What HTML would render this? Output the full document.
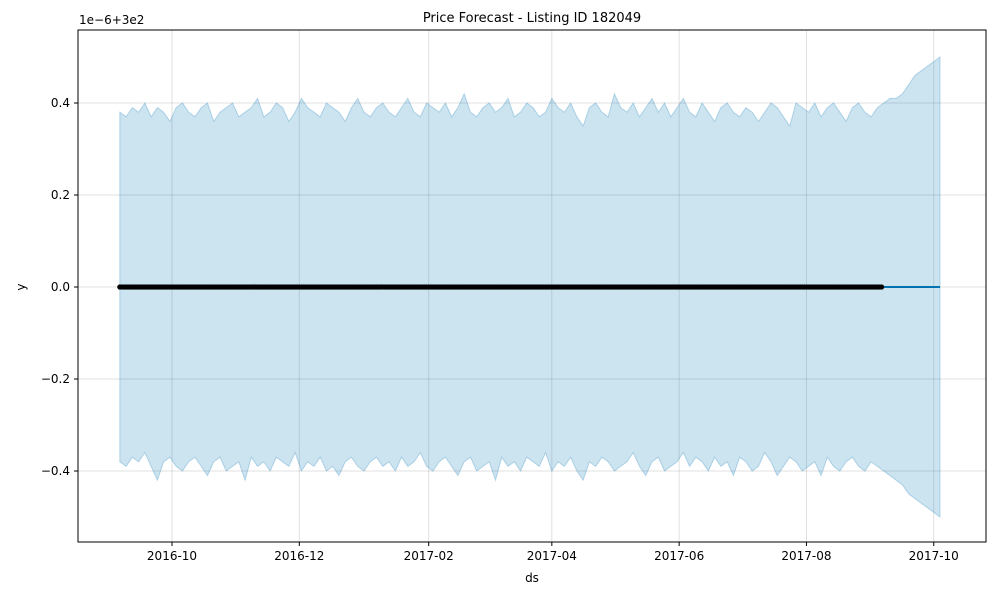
<!DOCTYPE html>
<html><head><meta charset="utf-8"><style>
body{margin:0;background:#fff;}
svg text{font-family:"DejaVu Sans","Liberation Sans",sans-serif;fill:#000;}
</style></head><body>
<svg id="chart" width="1000" height="600" xmlns="http://www.w3.org/2000/svg">
<rect width="1000" height="600" fill="#fff"/>
<g id="grid"></g>
<g id="band"></g>
<g id="lines"></g>
<g id="axes"></g>
<text x="532" y="22" font-size="13" text-anchor="middle">Price Forecast - Listing ID 182049</text>
<text x="532" y="582" font-size="12" text-anchor="middle">ds</text>
<text x="25" y="287" font-size="12" text-anchor="middle" transform="rotate(-90 25 287)">y</text>
<text x="79" y="24" font-size="12">1e−6+3e2</text>
</svg>
<script>
const xTickLabels=["2016-10","2016-12","2017-02","2017-04","2017-06","2017-08","2017-10"];
const xTickDays=[25,86,148,207,268,329,390];
const yTicks=[0.4,0.2,0.0,-0.2,-0.4];
const yTickLabels=["0.4","0.2","0.0","−0.2","−0.4"];
const bandStep=3;
const upper=[0.38,0.37,0.39,0.38,0.40,0.37,0.39,0.38,0.36,0.39,0.40,0.38,0.37,0.39,0.40,0.36,0.38,0.39,0.40,0.37,0.38,0.39,0.41,0.37,0.38,0.40,0.39,0.36,0.38,0.41,0.39,0.38,0.37,0.40,0.39,0.38,0.36,0.39,0.41,0.38,0.37,0.39,0.40,0.38,0.37,0.39,0.41,0.38,0.37,0.40,0.39,0.38,0.40,0.37,0.39,0.42,0.38,0.37,0.39,0.40,0.38,0.39,0.41,0.37,0.38,0.40,0.39,0.37,0.38,0.41,0.39,0.38,0.40,0.37,0.35,0.39,0.40,0.38,0.37,0.42,0.39,0.38,0.40,0.37,0.39,0.41,0.38,0.40,0.37,0.39,0.41,0.38,0.37,0.40,0.38,0.36,0.39,0.40,0.38,0.37,0.39,0.38,0.36,0.38,0.40,0.39,0.37,0.35,0.40,0.39,0.38,0.40,0.37,0.39,0.40,0.38,0.36,0.39,0.40,0.38,0.37,0.39,0.40,0.41,0.41,0.42,0.44,0.46,0.47,0.48,0.49,0.50];
const lower=[-0.38,-0.39,-0.37,-0.38,-0.36,-0.39,-0.42,-0.38,-0.37,-0.39,-0.40,-0.38,-0.37,-0.39,-0.41,-0.38,-0.37,-0.40,-0.39,-0.38,-0.42,-0.37,-0.39,-0.38,-0.40,-0.37,-0.38,-0.39,-0.36,-0.40,-0.38,-0.39,-0.37,-0.40,-0.39,-0.41,-0.38,-0.37,-0.39,-0.40,-0.38,-0.37,-0.39,-0.38,-0.40,-0.37,-0.39,-0.38,-0.36,-0.39,-0.40,-0.38,-0.37,-0.39,-0.41,-0.38,-0.37,-0.40,-0.39,-0.38,-0.42,-0.37,-0.39,-0.38,-0.40,-0.37,-0.38,-0.39,-0.36,-0.40,-0.38,-0.39,-0.37,-0.40,-0.42,-0.38,-0.39,-0.37,-0.38,-0.40,-0.39,-0.38,-0.36,-0.39,-0.41,-0.38,-0.37,-0.40,-0.39,-0.38,-0.36,-0.39,-0.37,-0.38,-0.40,-0.37,-0.39,-0.38,-0.41,-0.37,-0.38,-0.40,-0.39,-0.36,-0.38,-0.41,-0.39,-0.37,-0.38,-0.40,-0.39,-0.38,-0.41,-0.37,-0.39,-0.40,-0.38,-0.37,-0.39,-0.40,-0.38,-0.39,-0.40,-0.41,-0.42,-0.43,-0.45,-0.46,-0.47,-0.48,-0.49,-0.50];
const obsValues=new Array(366).fill(0);
const forecastDays=[0,393];
const forecastValues=[0,0];

const NS="http://www.w3.org/2000/svg";
const L=78,R=986,T=30,B=542;
const xs=d=>172+(d-25)*2.087;
const ys=v=>287-v*460;
function mk(tag,attrs,parent){const e=document.createElementNS(NS,tag);for(const k in attrs)e.setAttribute(k,attrs[k]);parent.appendChild(e);return e;}
const gridG=document.getElementById('grid'),bandG=document.getElementById('band'),linesG=document.getElementById('lines'),axesG=document.getElementById('axes');
xTickDays.forEach((d,i)=>{
 const g=mk('line',{x1:xs(d),x2:xs(d),y1:T,y2:B,stroke:'#000','stroke-opacity':0.12,'stroke-width':1},gridG);
 
 
 const t=mk('line',{x1:xs(d),x2:xs(d),y1:B,y2:B+4,stroke:'#000'},axesG);
 
 
 const tx=mk('text',{x:xs(d),y:B+18,'font-size':12,'text-anchor':'middle'},axesG);tx.textContent=xTickLabels[i];
 
 
});
yTicks.forEach((v,i)=>{
 const g=mk('line',{x1:L,x2:R,y1:ys(v),y2:ys(v),stroke:'#000','stroke-opacity':0.12,'stroke-width':1},gridG);
 
 
 const t=mk('line',{x1:L-4,x2:L,y1:ys(v),y2:ys(v),stroke:'#000'},axesG);
 
 
 const tx=mk('text',{x:L-8,y:ys(v)+4,'font-size':12,'text-anchor':'end'},axesG);tx.textContent=yTickLabels[i];
 
 
});
const upperPts=[],lowerPts=[];
upper.forEach((v,i)=>upperPts.push(xs(i*bandStep)+','+ys(v)));
lower.forEach((v,i)=>lowerPts.push(xs(i*bandStep)+','+ys(v)));
const poly=mk('polygon',{points:upperPts.concat(lowerPts.slice().reverse()).join(' '),fill:'#0072B2','fill-opacity':0.2,stroke:'#0072B2','stroke-opacity':0.25,'stroke-width':1},bandG);


const fl=mk('polyline',{points:forecastDays.map((d,i)=>xs(d)+','+ys(forecastValues[i])).join(' '),fill:'none',stroke:'#0072B2','stroke-width':2},linesG);


obsValues.forEach((v,i)=>{
 const c=mk('circle',{cx:xs(i),cy:ys(v),r:2.6,fill:'#000'},linesG);
 
 
});
const fr=mk('rect',{x:L,y:T,width:R-L,height:B-T,fill:'none',stroke:'#000','stroke-width':1},axesG);


</script>
</body></html>
